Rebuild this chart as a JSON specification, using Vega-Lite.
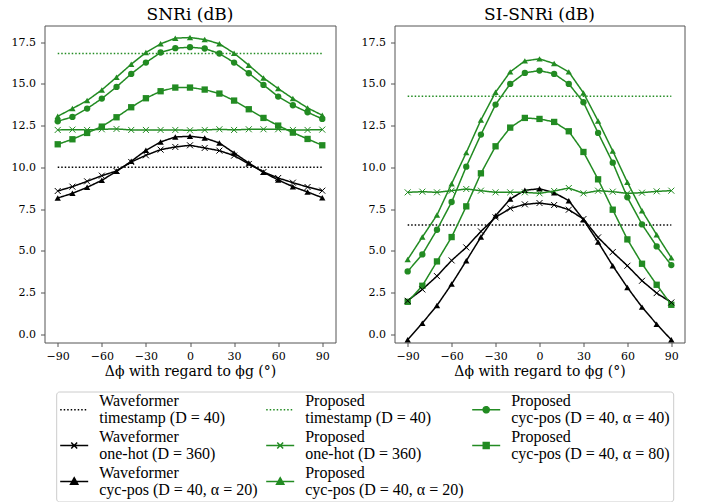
{
  "$schema": "https://vega.github.io/schema/vega-lite/v6.json",
  "padding": {"left": 10.5, "top": 5.5, "right": 15, "bottom": 0},
  "background": "white",
  "config": {
    "font": "DejaVu Serif",
    "view": {"stroke": "#555555", "strokeWidth": 1},
    "axis": {"grid": false, "domain": false, "tickColor": "#555555", "tickSize": 4, "labelFont": "DejaVu Serif", "labelFontSize": 11, "labelColor": "#000000", "titleFont": "DejaVu Serif", "titleFontSize": 14, "titleFontWeight": "normal", "titleColor": "#000000", "labelFlush": false, "labelOverlap": false},
    "title": {"font": "DejaVu Serif", "fontSize": 17, "fontWeight": "normal", "offset": 1.5, "color": "#000000"},
    "concat": {"spacing": 24}
  },
  "data": {"values": [
    {"a": -90, "s": "W-ts", "snri": 10.0, "sisnri": 6.54},
    {"a": 90, "s": "W-ts", "snri": 10.0, "sisnri": 6.54},
    {"a": -90, "s": "P-ts", "snri": 16.82, "sisnri": 14.26},
    {"a": 90, "s": "P-ts", "snri": 16.82, "sisnri": 14.26},

    {"a": -90, "s": "W-oh", "snri": 8.58, "sisnri": 2.0},
    {"a": -80, "s": "W-oh", "snri": 8.84, "sisnri": 2.68},
    {"a": -70, "s": "W-oh", "snri": 9.16, "sisnri": 3.48},
    {"a": -60, "s": "W-oh", "snri": 9.5, "sisnri": 4.42},
    {"a": -50, "s": "W-oh", "snri": 9.78, "sisnri": 5.2},
    {"a": -40, "s": "W-oh", "snri": 10.32, "sisnri": 6.16},
    {"a": -30, "s": "W-oh", "snri": 10.72, "sisnri": 7.0},
    {"a": -20, "s": "W-oh", "snri": 11.06, "sisnri": 7.54},
    {"a": -10, "s": "W-oh", "snri": 11.22, "sisnri": 7.78},
    {"a": 0, "s": "W-oh", "snri": 11.32, "sisnri": 7.86},
    {"a": 10, "s": "W-oh", "snri": 11.16, "sisnri": 7.74},
    {"a": 20, "s": "W-oh", "snri": 11.0, "sisnri": 7.46},
    {"a": 30, "s": "W-oh", "snri": 10.7, "sisnri": 6.9},
    {"a": 40, "s": "W-oh", "snri": 10.2, "sisnri": 5.8},
    {"a": 50, "s": "W-oh", "snri": 9.72, "sisnri": 4.92},
    {"a": 60, "s": "W-oh", "snri": 9.36, "sisnri": 4.1},
    {"a": 70, "s": "W-oh", "snri": 9.08, "sisnri": 3.2},
    {"a": 80, "s": "W-oh", "snri": 8.82, "sisnri": 2.46},
    {"a": 90, "s": "W-oh", "snri": 8.6, "sisnri": 1.9},

    {"a": -90, "s": "W-c20", "snri": 8.16, "sisnri": -0.34},
    {"a": -80, "s": "W-c20", "snri": 8.44, "sisnri": 0.66},
    {"a": -70, "s": "W-c20", "snri": 8.8, "sisnri": 1.72},
    {"a": -60, "s": "W-c20", "snri": 9.22, "sisnri": 3.0},
    {"a": -50, "s": "W-c20", "snri": 9.76, "sisnri": 4.4},
    {"a": -40, "s": "W-c20", "snri": 10.36, "sisnri": 5.82},
    {"a": -30, "s": "W-c20", "snri": 11.02, "sisnri": 7.1},
    {"a": -20, "s": "W-c20", "snri": 11.52, "sisnri": 8.1},
    {"a": -10, "s": "W-c20", "snri": 11.82, "sisnri": 8.62},
    {"a": 0, "s": "W-c20", "snri": 11.86, "sisnri": 8.72},
    {"a": 10, "s": "W-c20", "snri": 11.76, "sisnri": 8.48},
    {"a": 20, "s": "W-c20", "snri": 11.46, "sisnri": 8.0},
    {"a": 30, "s": "W-c20", "snri": 10.86, "sisnri": 6.86},
    {"a": 40, "s": "W-c20", "snri": 10.26, "sisnri": 5.52},
    {"a": 50, "s": "W-c20", "snri": 9.7, "sisnri": 4.1},
    {"a": 60, "s": "W-c20", "snri": 9.24, "sisnri": 2.8},
    {"a": 70, "s": "W-c20", "snri": 8.84, "sisnri": 1.62},
    {"a": 80, "s": "W-c20", "snri": 8.52, "sisnri": 0.6},
    {"a": 90, "s": "W-c20", "snri": 8.18, "sisnri": -0.34},

    {"a": -90, "s": "P-oh", "snri": 12.24, "sisnri": 8.5},
    {"a": -80, "s": "P-oh", "snri": 12.26, "sisnri": 8.54},
    {"a": -70, "s": "P-oh", "snri": 12.24, "sisnri": 8.5},
    {"a": -60, "s": "P-oh", "snri": 12.28, "sisnri": 8.6},
    {"a": -50, "s": "P-oh", "snri": 12.3, "sisnri": 8.7},
    {"a": -40, "s": "P-oh", "snri": 12.24, "sisnri": 8.6},
    {"a": -30, "s": "P-oh", "snri": 12.24, "sisnri": 8.5},
    {"a": -20, "s": "P-oh", "snri": 12.24, "sisnri": 8.5},
    {"a": -10, "s": "P-oh", "snri": 12.24, "sisnri": 8.5},
    {"a": 0, "s": "P-oh", "snri": 12.22, "sisnri": 8.44},
    {"a": 10, "s": "P-oh", "snri": 12.24, "sisnri": 8.58},
    {"a": 20, "s": "P-oh", "snri": 12.28, "sisnri": 8.76},
    {"a": 30, "s": "P-oh", "snri": 12.24, "sisnri": 8.44},
    {"a": 40, "s": "P-oh", "snri": 12.28, "sisnri": 8.6},
    {"a": 50, "s": "P-oh", "snri": 12.28, "sisnri": 8.54},
    {"a": 60, "s": "P-oh", "snri": 12.28, "sisnri": 8.44},
    {"a": 70, "s": "P-oh", "snri": 12.24, "sisnri": 8.48},
    {"a": 80, "s": "P-oh", "snri": 12.24, "sisnri": 8.56},
    {"a": 90, "s": "P-oh", "snri": 12.26, "sisnri": 8.6},

    {"a": -90, "s": "P-c20", "snri": 13.06, "sisnri": 4.48},
    {"a": -80, "s": "P-c20", "snri": 13.52, "sisnri": 5.82},
    {"a": -70, "s": "P-c20", "snri": 14.0, "sisnri": 7.14},
    {"a": -60, "s": "P-c20", "snri": 14.64, "sisnri": 9.02},
    {"a": -50, "s": "P-c20", "snri": 15.4, "sisnri": 10.88},
    {"a": -40, "s": "P-c20", "snri": 16.18, "sisnri": 12.84},
    {"a": -30, "s": "P-c20", "snri": 16.88, "sisnri": 14.5},
    {"a": -20, "s": "P-c20", "snri": 17.4, "sisnri": 15.72},
    {"a": -10, "s": "P-c20", "snri": 17.74, "sisnri": 16.38},
    {"a": 0, "s": "P-c20", "snri": 17.78, "sisnri": 16.5},
    {"a": 10, "s": "P-c20", "snri": 17.66, "sisnri": 16.22},
    {"a": 20, "s": "P-c20", "snri": 17.4, "sisnri": 15.72},
    {"a": 30, "s": "P-c20", "snri": 16.84, "sisnri": 14.46},
    {"a": 40, "s": "P-c20", "snri": 16.12, "sisnri": 12.78},
    {"a": 50, "s": "P-c20", "snri": 15.36, "sisnri": 10.98},
    {"a": 60, "s": "P-c20", "snri": 14.72, "sisnri": 9.1},
    {"a": 70, "s": "P-c20", "snri": 14.12, "sisnri": 7.4},
    {"a": 80, "s": "P-c20", "snri": 13.56, "sisnri": 5.96},
    {"a": 90, "s": "P-c20", "snri": 13.12, "sisnri": 4.58},

    {"a": -90, "s": "P-c40", "snri": 12.76, "sisnri": 3.76},
    {"a": -80, "s": "P-c40", "snri": 13.02, "sisnri": 4.78},
    {"a": -70, "s": "P-c40", "snri": 13.52, "sisnri": 6.26},
    {"a": -60, "s": "P-c40", "snri": 14.12, "sisnri": 7.92},
    {"a": -50, "s": "P-c40", "snri": 14.82, "sisnri": 10.04},
    {"a": -40, "s": "P-c40", "snri": 15.6, "sisnri": 11.96},
    {"a": -30, "s": "P-c40", "snri": 16.28, "sisnri": 13.76},
    {"a": -20, "s": "P-c40", "snri": 16.88, "sisnri": 15.0},
    {"a": -10, "s": "P-c40", "snri": 17.14, "sisnri": 15.66},
    {"a": 0, "s": "P-c40", "snri": 17.2, "sisnri": 15.8},
    {"a": 10, "s": "P-c40", "snri": 17.12, "sisnri": 15.6},
    {"a": 20, "s": "P-c40", "snri": 16.82, "sisnri": 15.0},
    {"a": 30, "s": "P-c40", "snri": 16.28, "sisnri": 13.9},
    {"a": 40, "s": "P-c40", "snri": 15.64, "sisnri": 12.06},
    {"a": 50, "s": "P-c40", "snri": 14.94, "sisnri": 10.28},
    {"a": 60, "s": "P-c40", "snri": 14.24, "sisnri": 8.2},
    {"a": 70, "s": "P-c40", "snri": 13.72, "sisnri": 6.58},
    {"a": 80, "s": "P-c40", "snri": 13.3, "sisnri": 5.26},
    {"a": 90, "s": "P-c40", "snri": 12.9, "sisnri": 4.14},

    {"a": -90, "s": "P-c80", "snri": 11.38, "sisnri": 1.94},
    {"a": -80, "s": "P-c80", "snri": 11.68, "sisnri": 2.9},
    {"a": -70, "s": "P-c80", "snri": 12.06, "sisnri": 4.36},
    {"a": -60, "s": "P-c80", "snri": 12.44, "sisnri": 5.82},
    {"a": -50, "s": "P-c80", "snri": 13.0, "sisnri": 7.66},
    {"a": -40, "s": "P-c80", "snri": 13.6, "sisnri": 9.64},
    {"a": -30, "s": "P-c80", "snri": 14.14, "sisnri": 11.26},
    {"a": -20, "s": "P-c80", "snri": 14.56, "sisnri": 12.38},
    {"a": -10, "s": "P-c80", "snri": 14.78, "sisnri": 12.96},
    {"a": 0, "s": "P-c80", "snri": 14.78, "sisnri": 12.9},
    {"a": 10, "s": "P-c80", "snri": 14.66, "sisnri": 12.72},
    {"a": 20, "s": "P-c80", "snri": 14.42, "sisnri": 12.16},
    {"a": 30, "s": "P-c80", "snri": 14.0, "sisnri": 10.92},
    {"a": 40, "s": "P-c80", "snri": 13.48, "sisnri": 9.28},
    {"a": 50, "s": "P-c80", "snri": 12.96, "sisnri": 7.46},
    {"a": 60, "s": "P-c80", "snri": 12.5, "sisnri": 5.68},
    {"a": 70, "s": "P-c80", "snri": 12.08, "sisnri": 4.22},
    {"a": 80, "s": "P-c80", "snri": 11.7, "sisnri": 2.96},
    {"a": 90, "s": "P-c80", "snri": 11.32, "sisnri": 1.76}
  ]},
  "hconcat": [
    {
      "width": 291, "height": 317,
      "title": "SNRi (dB)",
      "layer": [
        {
          "mark": {"type": "line", "strokeWidth": 1.5},
          "encoding": {
            "x": {"field": "a", "type": "quantitative", "scale": {"domain": [-99, 99], "nice": false, "zero": false}, "axis": {"values": [-90, -60, -30, 0, 30, 60, 90], "title": "Δϕ with regard to ϕg (°)", "labelPadding": 3.5, "titlePadding": 3.7}},
            "y": {"field": "snri", "type": "quantitative", "scale": {"domain": [-0.5, 18.5], "nice": false, "zero": false}, "axis": {"values": [0, 2.5, 5, 7.5, 10, 12.5, 15, 17.5], "format": ".1f", "title": null, "labelPadding": 5}},
            "color": {"field": "s", "type": "nominal",
              "scale": {"domain": ["W-ts", "W-oh", "W-c20", "P-ts", "P-oh", "P-c20", "P-c40", "P-c80"], "range": ["#000000", "#000000", "#000000", "#228b22", "#228b22", "#228b22", "#228b22", "#228b22"]},
              "legend": {
                "title": null, "orient": "none", "legendX": 11.7, "legendY": 366,
                "columns": 3, "columnPadding": 5, "rowPadding": 2, "padding": 3,
                "symbolSize": 784, "symbolStrokeWidth": 1.5,
                "labelFont": "Liberation Serif", "labelFontSize": 16, "labelOffset": 10, "labelLimit": 400, "labelColor": "#000000", "labelBaseline": "middle",
                "strokeColor": "#cccccc", "fillColor": "white", "cornerRadius": 3,
                "encode": {
                  "labels": {"update": {
                    "text": {"signal": "datum.value == 'W-ts' ? ['Waveformer','timestamp (D = 40)'] : datum.value == 'W-oh' ? ['Waveformer','one-hot (D = 360)'] : datum.value == 'W-c20' ? ['Waveformer','cyc-pos (D = 40, α = 20)'] : datum.value == 'P-ts' ? ['Proposed','timestamp (D = 40)'] : datum.value == 'P-oh' ? ['Proposed','one-hot (D = 360)'] : datum.value == 'P-c20' ? ['Proposed','cyc-pos (D = 40, α = 20)'] : datum.value == 'P-c40' ? ['Proposed','cyc-pos (D = 40, α = 40)'] : ['Proposed','cyc-pos (D = 40, α = 80)']"},
                    "lineHeight": {"value": 17},
                    "dy": {"value": -8.5}
                  }},
                  "symbols": {"update": {
                    "shape": {"signal": "indexof(datum.value,'ts') >= 0 ? 'M-1,0H1' : indexof(datum.value,'oh') >= 0 ? 'M-1,0H1M-0.21,-0.21L0.21,0.21M-0.21,0.21L0.21,-0.21' : datum.value == 'P-c40' ? 'M-1,0H1M0.22,0A0.22,0.22,0,1,1,-0.22,0A0.22,0.22,0,1,1,0.22,0Z' : datum.value == 'P-c80' ? 'M-1,0H1M-0.21,-0.21H0.21V0.21H-0.21Z' : 'M-1,0H1M0,-0.27L0.26,0.2L-0.26,0.2Z'"},
                    "size": {"value": 784},
                    "fill": {"scale": "color", "field": "value"},
                    "stroke": {"scale": "color", "field": "value"},
                    "strokeWidth": {"value": 1.5},
                    "strokeDash": {"signal": "indexof(datum.value,'ts') >= 0 ? [1.5,2] : [1,0]"},
                    "opacity": {"value": 1},
                    "fillOpacity": {"value": 1},
                    "strokeOpacity": {"value": 1}
                  }}
                }
              }},
            "strokeDash": {"field": "s", "type": "nominal", "scale": {"domain": ["W-ts", "W-oh", "W-c20", "P-ts", "P-oh", "P-c20", "P-c40", "P-c80"], "range": [[1.5, 2], [1, 0], [1, 0], [1.5, 2], [1, 0], [1, 0], [1, 0], [1, 0]]}, "legend": null}
          }
        },
        {
          "transform": [{"filter": {"field": "s", "oneOf": ["W-c20", "P-c20", "P-c40", "P-c80"]}}],
          "mark": {"type": "point", "filled": true, "opacity": 1, "size": 40},
          "encoding": {
            "x": {"field": "a", "type": "quantitative"},
            "y": {"field": "snri", "type": "quantitative"},
            "color": {"field": "s", "type": "nominal", "scale": {"domain": ["W-ts", "W-oh", "W-c20", "P-ts", "P-oh", "P-c20", "P-c40", "P-c80"], "range": ["#000000", "#000000", "#000000", "#228b22", "#228b22", "#228b22", "#228b22", "#228b22"]}},
            "shape": {"field": "s", "type": "nominal", "scale": {"domain": ["W-c20", "P-c20", "P-c40", "P-c80"], "range": ["triangle-up", "triangle-up", "circle", "square"]}, "legend": null}
          }
        },
        {
          "transform": [{"filter": {"field": "s", "oneOf": ["W-oh", "P-oh"]}}],
          "mark": {"type": "point", "filled": false, "opacity": 1, "size": 36, "strokeWidth": 1, "shape": "M-1,-1L1,1M-1,1L1,-1"},
          "encoding": {
            "x": {"field": "a", "type": "quantitative"},
            "y": {"field": "snri", "type": "quantitative"},
            "color": {"field": "s", "type": "nominal", "scale": {"domain": ["W-ts", "W-oh", "W-c20", "P-ts", "P-oh", "P-c20", "P-c40", "P-c80"], "range": ["#000000", "#000000", "#000000", "#228b22", "#228b22", "#228b22", "#228b22", "#228b22"]}}
          }
        }
      ]
    },
    {
      "width": 290, "height": 317,
      "title": "SI-SNRi (dB)",
      "layer": [
        {
          "mark": {"type": "line", "strokeWidth": 1.5},
          "encoding": {
            "x": {"field": "a", "type": "quantitative", "scale": {"domain": [-99, 99], "nice": false, "zero": false}, "axis": {"values": [-90, -60, -30, 0, 30, 60, 90], "title": "Δϕ with regard to ϕg (°)", "labelPadding": 3.5, "titlePadding": 3.7}},
            "y": {"field": "sisnri", "type": "quantitative", "scale": {"domain": [-0.5, 18.5], "nice": false, "zero": false}, "axis": {"values": [0, 2.5, 5, 7.5, 10, 12.5, 15, 17.5], "format": ".1f", "title": null, "labelPadding": 5}},
            "color": {"field": "s", "type": "nominal", "scale": {"domain": ["W-ts", "W-oh", "W-c20", "P-ts", "P-oh", "P-c20", "P-c40", "P-c80"], "range": ["#000000", "#000000", "#000000", "#228b22", "#228b22", "#228b22", "#228b22", "#228b22"]}},
            "strokeDash": {"field": "s", "type": "nominal", "scale": {"domain": ["W-ts", "W-oh", "W-c20", "P-ts", "P-oh", "P-c20", "P-c40", "P-c80"], "range": [[1.5, 2], [1, 0], [1, 0], [1.5, 2], [1, 0], [1, 0], [1, 0], [1, 0]]}, "legend": null}
          }
        },
        {
          "transform": [{"filter": {"field": "s", "oneOf": ["W-c20", "P-c20", "P-c40", "P-c80"]}}],
          "mark": {"type": "point", "filled": true, "opacity": 1, "size": 40},
          "encoding": {
            "x": {"field": "a", "type": "quantitative"},
            "y": {"field": "sisnri", "type": "quantitative"},
            "color": {"field": "s", "type": "nominal", "scale": {"domain": ["W-ts", "W-oh", "W-c20", "P-ts", "P-oh", "P-c20", "P-c40", "P-c80"], "range": ["#000000", "#000000", "#000000", "#228b22", "#228b22", "#228b22", "#228b22", "#228b22"]}},
            "shape": {"field": "s", "type": "nominal", "scale": {"domain": ["W-c20", "P-c20", "P-c40", "P-c80"], "range": ["triangle-up", "triangle-up", "circle", "square"]}, "legend": null}
          }
        },
        {
          "transform": [{"filter": {"field": "s", "oneOf": ["W-oh", "P-oh"]}}],
          "mark": {"type": "point", "filled": false, "opacity": 1, "size": 36, "strokeWidth": 1, "shape": "M-1,-1L1,1M-1,1L1,-1"},
          "encoding": {
            "x": {"field": "a", "type": "quantitative"},
            "y": {"field": "sisnri", "type": "quantitative"},
            "color": {"field": "s", "type": "nominal", "scale": {"domain": ["W-ts", "W-oh", "W-c20", "P-ts", "P-oh", "P-c20", "P-c40", "P-c80"], "range": ["#000000", "#000000", "#000000", "#228b22", "#228b22", "#228b22", "#228b22", "#228b22"]}}
          }
        }
      ]
    }
  ],
  "resolve": {"scale": {"y": "independent", "x": "independent"}, "axis": {"y": "independent"}}
}
